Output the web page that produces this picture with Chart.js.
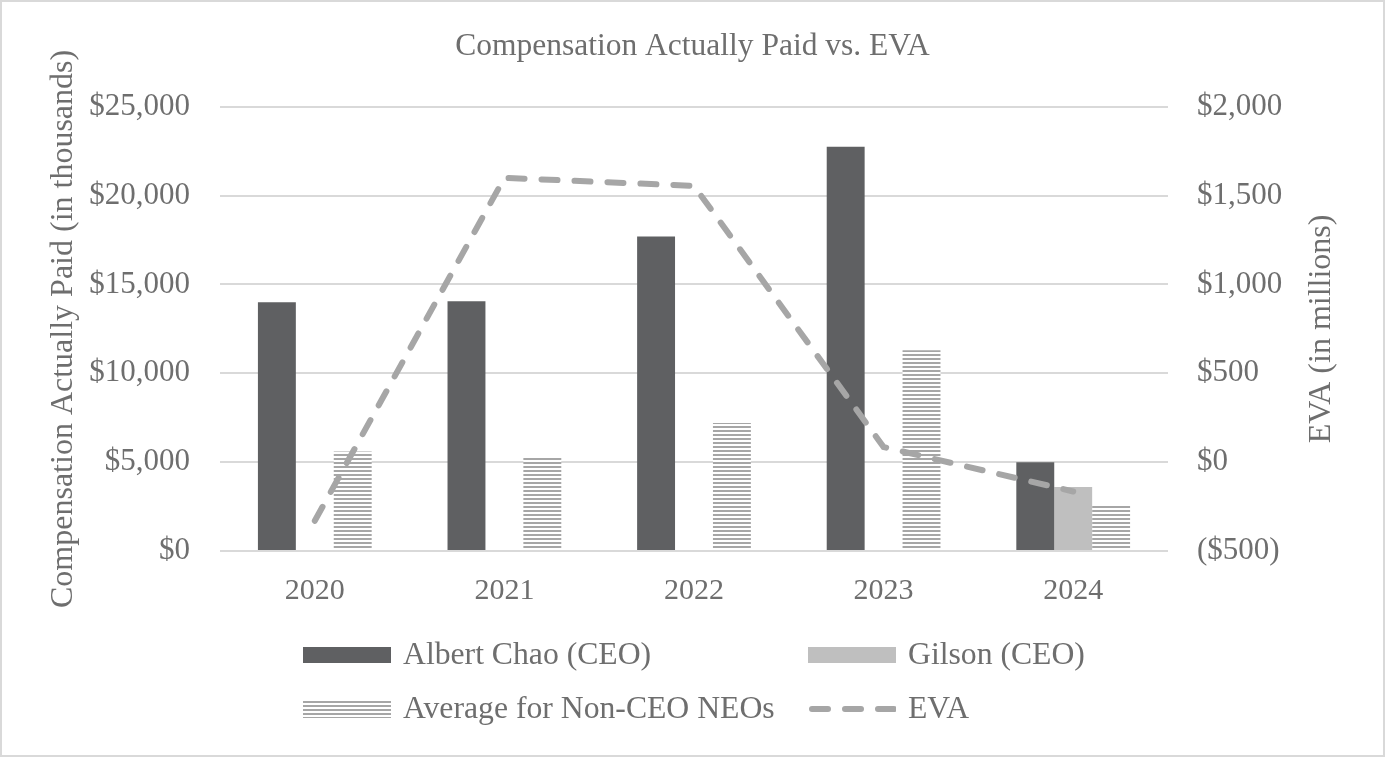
<!DOCTYPE html>
<html>
<head>
<meta charset="utf-8">
<script src="https://cdn.jsdelivr.net/npm/chart.js@4/dist/chart.umd.min.js"></script>
<style>
  html, body { margin: 0; padding: 0; background: #fff; }
  #wrap { position: relative; width: 1385px; height: 757px; box-sizing: border-box; border: 2px solid #d9d9d9; }
  #chart { position: absolute; left: 0; top: 0; }
  .leg { position: absolute; font-family: 'Liberation Serif', serif; font-size: 31.7px; color: #6e6e6e; line-height: 1; white-space: nowrap; }
  .sw { position: absolute; width: 88px; height: 18px; }
</style>
</head>
<body>
<div id="wrap">
  <canvas id="chart" width="1381" height="753"></canvas>
  <div id="legend"></div>
</div>
<script>
/* global Chart */

const years = ['2020', '2021', '2022', '2023', '2024']
const chaoPay = [14000, 14050, 17700, 22750, 5000]
const gilsonPay = [null, null, null, null, 3600]
const neoAvgPay = [5600, 5300, 7200, 11300, 2600]
const evaValues = [-330, 1600, 1555, 85, -165]

const leftTicks = [0, 5000, 10000, 15000, 20000, 25000]
const rightTicks = [-500, 0, 500, 1000, 1500, 2000]

const TEXT = '#6e6e6e'
const GRID = '#d9d9d9'
const CHAO = '#5f6062'
const GILSON = '#bfbfbf'
const HATCH = '#a6a6a6'
const EVA = '#a6a6a6'
const FONT = "'Liberation Serif', 'Times New Roman', serif"

function hatchPattern(ctx) {
  const c = document.createElement('canvas')
  c.width = 4
  c.height = 4
  const g = c.getContext('2d')
  g.fillStyle = '#ffffff'
  g.fillRect(0, 0, 4, 4)
  g.fillStyle = HATCH
  g.fillRect(0, 0, 4, 2)
  return ctx.createPattern(c, 'repeat')
}

function fmtMoney(v) {
  const s = '$' + Math.abs(v).toLocaleString('en-US')
  return v < 0 ? '(' + s + ')' : s
}

// right axis title reads bottom-to-top like the left one
const rightTitle = {
  id: 'rightTitle',
  afterDraw(chart) {
    const area = chart.chartArea
    const c = chart.ctx
    c.save()
    c.translate(1320, (area.top + area.bottom) / 2)
    c.rotate(-Math.PI / 2)
    c.fillStyle = TEXT
    c.font = '32px ' + FONT
    c.textAlign = 'center'
    c.textBaseline = 'middle'
    c.fillText('EVA (in millions)', 0, 0)
    c.restore()
  }
}

const canvas = document.getElementById('chart')
const ctx = canvas.getContext('2d')

const chart = new Chart(canvas, {
  data: {
    labels: years,
    datasets: [
      {
        type: 'line',
        label: 'EVA',
        data: evaValues,
        yAxisID: 'y1',
        borderColor: EVA,
        borderWidth: 6,
        borderDash: [16, 17],
        borderCapStyle: 'round',
        pointRadius: 0,
        fill: false,
        order: 0
      },
      {
        type: 'bar',
        label: 'Albert Chao (CEO)',
        data: chaoPay,
        backgroundColor: CHAO,
        yAxisID: 'y',
        order: 1
      },
      {
        type: 'bar',
        label: 'Gilson (CEO)',
        data: gilsonPay,
        backgroundColor: GILSON,
        yAxisID: 'y',
        order: 1
      },
      {
        type: 'bar',
        label: 'Average for Non-CEO NEOs',
        data: neoAvgPay,
        backgroundColor: hatchPattern(ctx),
        yAxisID: 'y',
        order: 1
      }
    ]
  },
  plugins: [rightTitle],
  options: {
    responsive: false,
    animation: false,
    layout: { padding: { left: 0, right: 0, top: 0, bottom: 144 } },
    datasets: { bar: { categoryPercentage: 0.6, barPercentage: 1.0 } },
    plugins: {
      legend: { display: false },
      tooltip: { enabled: false },
      title: {
        display: true,
        text: 'Compensation Actually Paid vs. EVA',
        color: TEXT,
        font: { family: FONT, size: 31.5, weight: 'normal' },
        padding: { top: 26, bottom: 41 }
      }
    },
    scales: {
      x: {
        afterFit: axis => { axis.height = 60 },
        grid: { display: false },
        border: { display: false },
        ticks: { color: TEXT, font: { family: FONT, size: 30 }, padding: 14 }
      },
      y: {
        position: 'left',
        min: 0,
        max: 25000,
        afterFit: axis => { axis.width = 218 },
        afterBuildTicks: axis => { axis.ticks = leftTicks.map(v => ({ value: v })) },
        grid: { color: GRID, lineWidth: 2, drawTicks: false },
        border: { display: false },
        ticks: { color: TEXT, font: { family: FONT, size: 31 }, padding: 30, callback: v => fmtMoney(v) },
        title: { display: true, text: 'Compensation Actually Paid (in thousands)', color: TEXT, font: { family: FONT, size: 32 }, padding: { top: 42, bottom: 0 } }
      },
      y1: {
        position: 'right',
        min: -500,
        max: 2000,
        afterFit: axis => { axis.width = 215 },
        afterBuildTicks: axis => { axis.ticks = rightTicks.map(v => ({ value: v })) },
        grid: { drawOnChartArea: false, drawTicks: false },
        border: { display: false },
        ticks: { color: TEXT, font: { family: FONT, size: 31 }, padding: 29, callback: v => fmtMoney(v) }
      }
    }
  }
})

// legend laid out as a two-column grid like the original
const legendItems = [
  { text: 'Albert Chao (CEO)', kind: 'solid', color: CHAO, x: 303, y: 655 },
  { text: 'Gilson (CEO)', kind: 'solid', color: GILSON, x: 808, y: 655 },
  { text: 'Average for Non-CEO NEOs', kind: 'hatch', color: HATCH, x: 303, y: 709 },
  { text: 'EVA', kind: 'dash', color: EVA, x: 808, y: 709 }
]

const legend = document.getElementById('legend')
for (const item of legendItems) {
  const sw = document.createElement('canvas')
  sw.className = 'sw'
  sw.width = 88
  sw.height = 18
  sw.style.left = (item.x - 2) + 'px'
  sw.style.top = (item.y - 2 - 9) + 'px'
  const g = sw.getContext('2d')
  if (item.kind === 'solid') {
    g.fillStyle = item.color
    g.fillRect(0, 1, 88, 16)
  } else if (item.kind === 'hatch') {
    g.fillStyle = item.color
    for (let yy = 1; yy < 18; yy += 4) g.fillRect(0, yy, 88, 2)
  } else {
    g.strokeStyle = item.color
    g.lineWidth = 6
    g.lineCap = 'round'
    g.setLineDash([16, 17])
    g.beginPath()
    g.moveTo(4, 9)
    g.lineTo(88, 9)
    g.stroke()
  }
  legend.appendChild(sw)

  const t = document.createElement('div')
  t.className = 'leg'
  t.textContent = item.text
  t.style.left = (item.x + 100 - 2) + 'px'
  t.style.top = (item.y - 2 - 17) + 'px'
  legend.appendChild(t)
}
</script>
</body>
</html>
